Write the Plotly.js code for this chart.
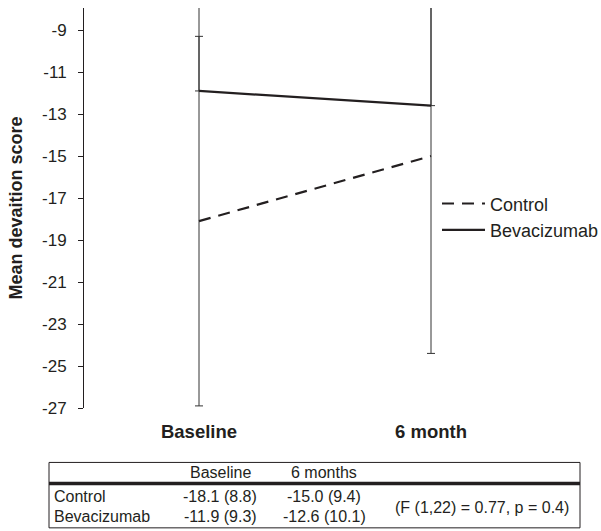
<!DOCTYPE html>
<html>
<head>
<meta charset="utf-8">
<script src="https://cdn.plot.ly/plotly-3.0.1.min.js"></script>
<style>html,body{margin:0;padding:0;background:#fff;}#chart{width:601px;height:531px;}</style>
</head>
<body>
<div id="chart"></div>
<script>
var categories = ["Baseline", "6 month"];
var tableHeaders = ["Baseline", "6 months"];
var seriesNames = ["Control", "Bevacizumab"];
var controlMean = [-18.1, -15.0];
var controlSD = [8.8, 9.4];
var bevMean = [-11.9, -12.6];
var bevSD = [9.3, 10.1];
var statText = "(F (1,22) = 0.77, p = 0.4)";
var yTicks = [-27, -25, -23, -21, -19, -17, -15, -13, -11, -9];
var yTickText = yTicks.map(function(v){ return String(v); });

var FONT = "Liberation Sans, Arial, sans-serif";
var INK = "#231f20";

var traces = [
  {
    x: categories, y: controlMean, name: seriesNames[0], mode: "lines",
    line: {color: INK, width: 2.2, dash: "12px,8px"},
    error_y: {type: "data", array: controlSD, symmetric: true, color: "#333", thickness: 1, width: 4}
  },
  {
    x: categories, y: bevMean, name: seriesNames[1], mode: "lines",
    line: {color: INK, width: 2.2},
    error_y: {type: "data", array: bevSD, arrayminus: bevSD.map(function(){return 0;}), symmetric: false, color: "#333", thickness: 1, width: 4}
  }
];

var W = 601, H = 531;
var L = 84, R = 601, T = 8, B = 408.5;
var X0 = 199, X1 = 431; // pixel centres of the two categories
var unit = X1 - X0;
var xRange = [-(X0 - L) / unit, 1 + (R - X1) / unit];
function px(x){ return (x - L) / (R - L); }
function py(y){ return (B - y) / (B - T); }

var shapes = [
  {type: "rect", xref: "paper", yref: "paper", x0: px(49), x1: px(580), y0: py(463), y1: py(528.5), line: {color: INK, width: 1}},
  {type: "line", xref: "paper", yref: "paper", x0: px(49), x1: px(580), y0: py(484), y1: py(484), line: {color: INK, width: 3.5}}
];

function cell(m, s){ return m.toFixed(1) + " (" + s.toFixed(1) + ")"; }
var ann = [];
var colX = [220, 324];
var rowY = [497, 517];
var cf = {family: FONT, size: 16, color: INK};
tableHeaders.forEach(function(h, i){
  ann.push({xref: "paper", yref: "paper", x: px(colX[i]), y: py(473.5), text: h, showarrow: false, xanchor: "center", yanchor: "middle", font: cf, borderpad: 0});
});
var means = [controlMean, bevMean], sds = [controlSD, bevSD];
seriesNames.forEach(function(n, r){
  ann.push({xref: "paper", yref: "paper", x: px(53), y: py(rowY[r]), text: n, showarrow: false, xanchor: "left", yanchor: "middle", font: cf, borderpad: 0});
  for (var c = 0; c < 2; c++) {
    ann.push({xref: "paper", yref: "paper", x: px(colX[c]), y: py(rowY[r]), text: cell(means[r][c], sds[r][c]), showarrow: false, xanchor: "center", yanchor: "middle", font: cf, borderpad: 0});
  }
});
ann.push({xref: "paper", yref: "paper", x: px(481.5), y: py(508.5), text: statText, showarrow: false, xanchor: "center", yanchor: "middle", font: cf, borderpad: 0});

var layout = {
  width: W, height: H,
  margin: {l: L, r: W - R, t: T, b: H - B, pad: 0, autoexpand: false},
  paper_bgcolor: "#fff", plot_bgcolor: "#fff",
  font: {family: FONT, color: INK},
  showlegend: true,
  legend: {x: px(437), y: py(185.5), xanchor: "left", yanchor: "top",
           bgcolor: "rgba(0,0,0,0)", font: {family: FONT, size: 18, color: INK}, itemwidth: 43, tracegroupgap: 0},
  xaxis: {
    type: "category", range: xRange, showline: false, showgrid: false, zeroline: false,
    ticks: "", tickfont: {family: FONT, size: 18.5, color: INK, weight: "bold"}, ticklabelstandoff: 10,
    fixedrange: true
  },
  yaxis: {
    range: [-27, -7.95], tickvals: yTicks, ticktext: yTickText, showline: true, linecolor: INK, linewidth: 1,
    ticks: "outside", ticklen: 5, tickcolor: INK, showgrid: false, zeroline: false,
    tickfont: {family: FONT, size: 17, color: INK}, ticklabelstandoff: 8,
    title: {text: "Mean devaition score", font: {family: FONT, size: 18, color: INK, weight: "bold"}, standoff: 14},
    fixedrange: true
  },
  shapes: shapes,
  annotations: ann
};

Plotly.newPlot("chart", traces, layout, {displayModeBar: false, staticPlot: true});
</script>
</body>
</html>
